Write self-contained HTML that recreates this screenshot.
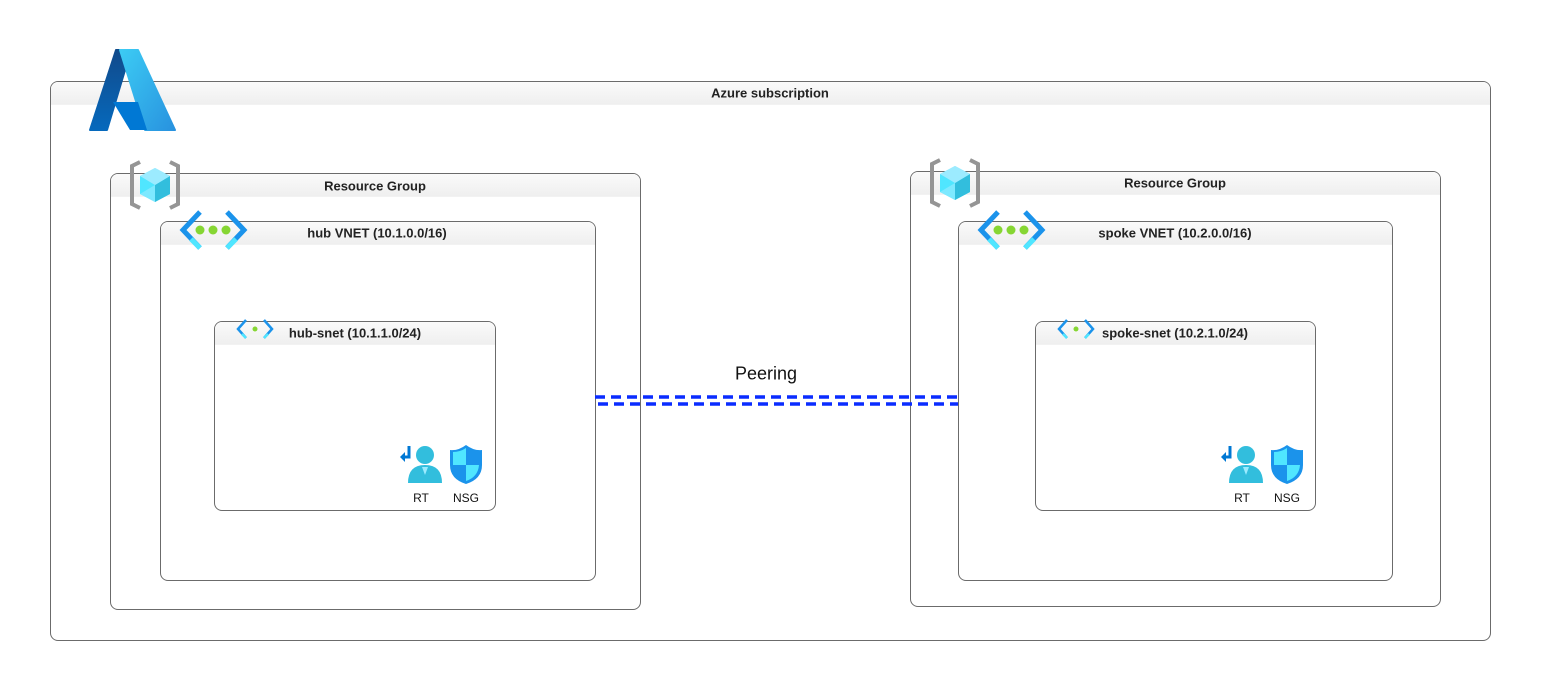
<!DOCTYPE html>
<html><head><meta charset="utf-8"><style>
body{margin:0;width:1541px;height:691px;background:#fff;position:relative;overflow:hidden;font-family:"Liberation Sans",Arial,sans-serif;}
.box{position:absolute;border:1px solid #6b6b6b;border-radius:8px;box-sizing:border-box;background:#fff;}
.box .hd{position:absolute;left:0;right:0;top:0;height:22px;border-radius:7px 7px 0 0;background:linear-gradient(#fafafa,#efefef);border-bottom:1px solid #f2f2f2;}
.t{position:absolute;font-size:13px;font-weight:bold;color:#222;white-space:nowrap;transform:translate(-50%,-50%);}
.l{position:absolute;font-size:12px;color:#111;transform:translate(-50%,-50%);}
svg{position:absolute;overflow:visible}
</style></head><body>
<div class="box" style="left:50px;top:81px;width:1441px;height:560px"><div class="hd"></div></div>
<div class="box" style="left:110px;top:173px;width:531px;height:437px"><div class="hd"></div></div>
<div class="box" style="left:910px;top:171px;width:531px;height:436px"><div class="hd"></div></div>
<div class="box" style="left:160px;top:221px;width:436px;height:360px"><div class="hd"></div></div>
<div class="box" style="left:958px;top:221px;width:435px;height:360px"><div class="hd"></div></div>
<div class="box" style="left:214px;top:321px;width:282px;height:190px"><div class="hd"></div></div>
<div class="box" style="left:1035px;top:321px;width:281px;height:190px"><div class="hd"></div></div>

<div class="t" style="left:770px;top:93px">Azure subscription</div>
<div class="t" style="left:375px;top:186px">Resource Group</div>
<div class="t" style="left:1175px;top:183px">Resource Group</div>
<div class="t" style="left:377px;top:233px">hub VNET (10.1.0.0/16)</div>
<div class="t" style="left:1175px;top:233px">spoke VNET (10.2.0.0/16)</div>
<div class="t" style="left:355px;top:333px">hub-snet (10.1.1.0/24)</div>
<div class="t" style="left:1175px;top:333px">spoke-snet (10.2.1.0/24)</div>
<div class="l" style="left:766px;top:374px;font-size:18px">Peering</div>
<div class="l" style="left:421px;top:498px">RT</div>
<div class="l" style="left:466px;top:498px">NSG</div>
<div class="l" style="left:1242px;top:498px">RT</div>
<div class="l" style="left:1287px;top:498px">NSG</div>

<svg width="1541" height="691" style="left:0;top:0">
<defs>
<linearGradient id="az1" x1="0" y1="0" x2="0" y2="1"><stop offset="0" stop-color="#114a8b"/><stop offset="1" stop-color="#0669bc"/></linearGradient>
<linearGradient id="az2" x1="0" y1="0" x2="1" y2="1"><stop offset="0" stop-color="#3ccbf4"/><stop offset="1" stop-color="#2892df"/></linearGradient>
<g id="rg"><path d="M10 0 L2 4 L2 42 L10 46" fill="none" stroke="#959595" stroke-width="4"/><path d="M40 0 L48 4 L48 42 L40 46" fill="none" stroke="#959595" stroke-width="4"/>
<polygon points="25,6 40,14 40,32 25,40 10,32 10,14" fill="#50e6ff"/><polygon points="25,23 40,14 40,32 25,40" fill="#32bedd"/><polygon points="10,14 25,6 40,14 25,23" fill="#9cebff"/><polygon points="10,32 25,23 25,40" fill="#9cebff" opacity=".6"/></g>
<g id="vn"><path d="M20 2 L3 20 L20 38" fill="none" stroke="#1b93eb" stroke-width="5"/><path d="M20 38 L11 29" stroke="#50e6ff" stroke-width="5"/><path d="M47 2 L64 20 L47 38" fill="none" stroke="#1b93eb" stroke-width="5"/><path d="M47 38 L56 29" stroke="#50e6ff" stroke-width="5"/>
<circle cx="20" cy="20" r="4.5" fill="#86d633"/><circle cx="33" cy="20" r="4.5" fill="#86d633"/><circle cx="46" cy="20" r="4.5" fill="#86d633"/></g>
<g id="sn"><path d="M10 1 L2 10 L10 19" fill="none" stroke="#1b93eb" stroke-width="2.5"/><path d="M28 1 L36 10 L28 19" fill="none" stroke="#1b93eb" stroke-width="2.5"/><path d="M10 19 L6 15" stroke="#50e6ff" stroke-width="2.5"/><path d="M28 19 L32 15" stroke="#50e6ff" stroke-width="2.5"/><circle cx="19" cy="10" r="2.5" fill="#86d633"/></g>
<g id="rt"><circle cx="25" cy="10" r="9" fill="#32bedd"/><path d="M8 38 Q8 20 25 20 Q42 20 42 38 Z" fill="#32bedd"/><path d="M22 22 L25 30 L28 22Z" fill="#9cebff"/><path d="M9 1 V12 H2" fill="none" stroke="#0078d4" stroke-width="3"/><path d="M0 12 L5 7 L5 17Z" fill="#0078d4"/></g>
<g id="ns"><path d="M16 0 Q24 6 32 5 V20 Q32 34 16 39 Q0 34 0 20 V5 Q8 6 16 0Z" fill="#1b93eb"/><path d="M16 3 V20 H3 V7 Q10 7 16 3Z" fill="#50e6ff"/><path d="M16 20 H29 Q28 32 16 36Z" fill="#50e6ff"/></g>
</defs>
<path d="M116 50 L131 50 L107 130 L90 130 Z" fill="url(#az1)" stroke="url(#az1)" stroke-linejoin="round" stroke-width="2"/>
<path d="M120 50 L138 50 L175 130 L145 130 Z" fill="url(#az2)" stroke="url(#az2)" stroke-linejoin="round" stroke-width="2"/>
<path d="M113 102 L138 102 L147 130 L130 130 Z" fill="#0078d4"/>
<use href="#rg" x="130" y="162"/><use href="#rg" x="930" y="160"/>
<use href="#vn" x="180" y="210"/><use href="#vn" x="978" y="210"/>
<use href="#sn" x="236" y="319"/><use href="#sn" x="1057" y="319"/>
<use href="#rt" x="400" y="445"/><use href="#rt" x="1221" y="445"/>
<use href="#ns" x="450" y="445"/><use href="#ns" x="1271" y="445"/>
<line x1="595" y1="397" x2="958" y2="397" stroke="#0a2cff" stroke-width="3.5" stroke-dasharray="10,6"/>
<line x1="598" y1="404" x2="958" y2="404" stroke="#0a2cff" stroke-width="3.5" stroke-dasharray="10,6"/>
</svg>
</body></html>
